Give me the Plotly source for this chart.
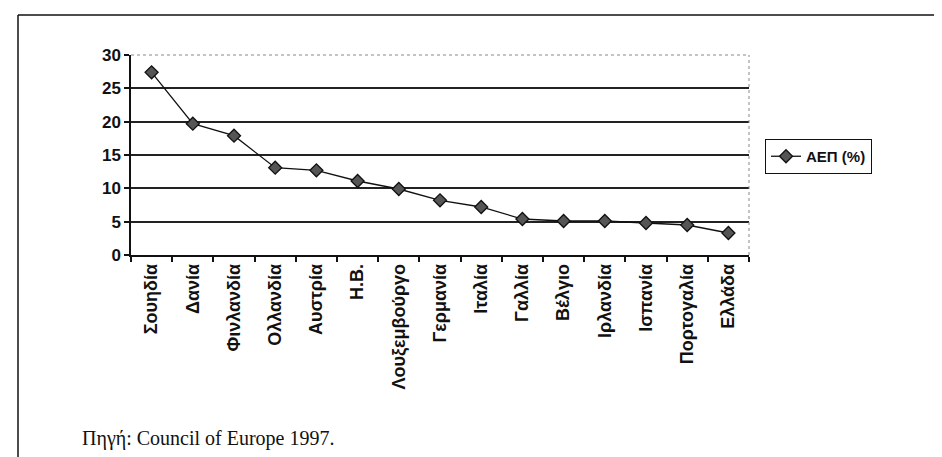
import plotly.graph_objects as go

countries = ["Σουηδία", "Δανία", "Φινλανδία", "Ολλανδία", "Αυστρία", "Η.Β.",
             "Λουξεμβούργο", "Γερμανία", "Ιταλία", "Γαλλία", "Βέλγιο",
             "Ιρλανδία", "Ισπανία", "Πορτογαλία", "Ελλάδα"]
aep = [27.4, 19.7, 17.9, 13.1, 12.7, 11.1, 9.9, 8.2, 7.2, 5.4, 5.1, 5.1, 4.8, 4.5, 3.3]
y_ticks = [0, 5, 10, 15, 20, 25, 30]
series_name = "ΑΕΠ (%)"
source_text = "Πηγή: Council of Europe 1997."

W, H = 942, 457
L, R, T, B = 123, 741, 47, 247
pw, ph = R - L, B - T

def px_x(x):
    return (x - L) / pw

def px_y(y):
    return (B - y) / ph

fig = go.Figure()
fig.add_trace(go.Scatter(
    x=countries, y=aep, mode="lines+markers", name=series_name,
    line=dict(color="#111", width=1.3),
    marker=dict(symbol="diamond", size=10, color="#555", line=dict(color="#111", width=1.3)),
))

fig.update_layout(
    width=W, height=H,
    margin=dict(l=L, r=W - R, t=T, b=H - B),
    paper_bgcolor="white", plot_bgcolor="white",
    font=dict(family="Arial, Liberation Sans, sans-serif", color="#111"),
    showlegend=True,
    legend=dict(x=px_x(757), y=px_y(131), xanchor="left", yanchor="top",
                bordercolor="#111", borderwidth=1, bgcolor="white",
                font=dict(size=15, weight="bold"),
                tracegroupgap=0, itemwidth=30),
    xaxis=dict(type="category", range=[-0.5, len(countries) - 0.5],
               tickson="boundaries", ticks="outside", ticklen=5, tickcolor="#111", tickwidth=1.5,
               showline=True, linecolor="#111", linewidth=1.5, showgrid=False,
               tickangle=-90, tickfont=dict(size=18, weight="bold"), automargin=False),
    yaxis=dict(range=[0, 30], tickvals=y_ticks, ticks="outside", ticklen=5,
               tickcolor="#111", tickwidth=1.5,
               showline=True, linecolor="#111", linewidth=1.5,
               showgrid=True, gridcolor="#222", gridwidth=1.6, zeroline=False,
               tickfont=dict(size=17, weight="bold"), automargin=False),
    shapes=[
        # cover top gridline, draw dotted plot border (top, right)
        dict(type="line", xref="x domain", yref="y domain", x0=0.003, x1=1, y0=1, y1=1,
             line=dict(color="white", width=3), layer="above"),
        dict(type="line", xref="x domain", yref="y domain", x0=0, x1=1, y0=1, y1=1,
             line=dict(color="#888", width=1, dash="dot"), layer="above"),
        dict(type="line", xref="x domain", yref="y domain", x0=1, x1=1, y0=0, y1=1,
             line=dict(color="#888", width=1, dash="dot"), layer="above"),
        # outer frame (top and left edges)
        dict(type="line", xref="paper", yref="paper", x0=px_x(10), x1=px_x(945),
             y0=px_y(7), y1=px_y(7), line=dict(color="#111", width=1.5)),
        dict(type="line", xref="paper", yref="paper", x0=px_x(10), x1=px_x(10),
             y0=px_y(7), y1=px_y(460), line=dict(color="#111", width=1.5)),
    ],
    annotations=[
        dict(text=source_text, xref="paper", yref="paper", x=px_x(72), y=px_y(430),
             xanchor="left", yanchor="middle", showarrow=False,
             font=dict(family="Liberation Serif, Times New Roman, serif", size=20, color="#111")),
    ],
)

fig.write_html("out.html")
